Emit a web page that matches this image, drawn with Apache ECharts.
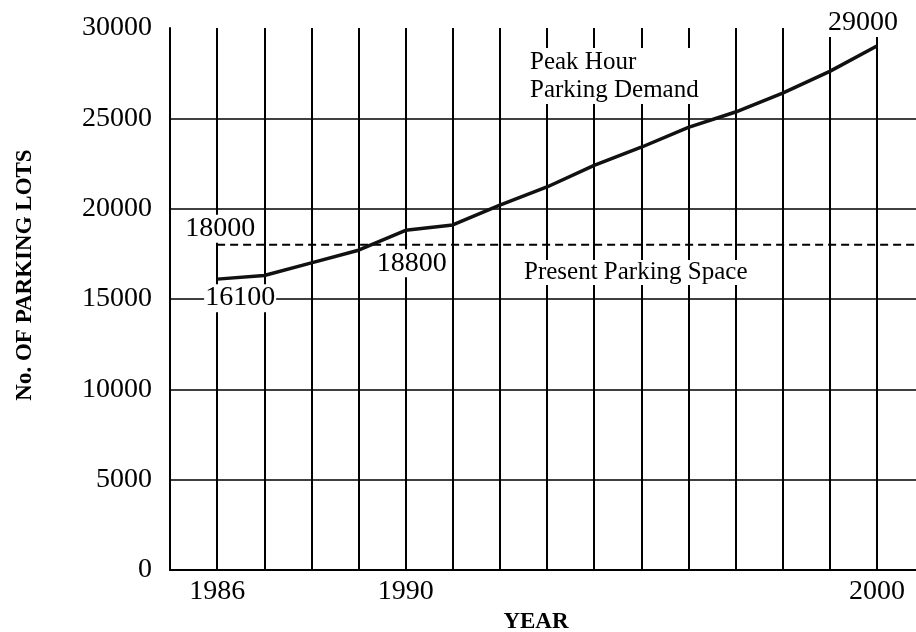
<!DOCTYPE html>
<html>
<head>
<meta charset="utf-8">
<script src="https://cdn.jsdelivr.net/npm/echarts@6/dist/echarts.min.js"></script>
<style>
  html, body { margin: 0; padding: 0; background: #fff; }
  #main { width: 916px; height: 632px; }
</style>
</head>
<body>
<div id="main"></div>
<script>
// peak hour demand
var years = [1986, 1987, 1988, 1989, 1990, 1991, 1992, 1993, 1994, 1995, 1996, 1997, 1998, 1999, 2000];
var demand = [16100, 16300, 17000, 17700, 18800, 19100, 20200, 21200, 22400, 23400, 24500, 25350, 26400, 27600, 29000];
// present parking space (flat)
var spaceYears = [1986, 2001];
var space = [18000, 18000];
// which years get a tick label
var labelYears = [1986, 1990, 2000];
// demand points that carry a value label
var labelIdx = [0, 4, 14];

var serif = '"Liberation Serif", "Times New Roman", serif';

var chart = echarts.init(document.getElementById('main'), null, { renderer: 'canvas' });

function numLabel(ofs) {
    return {
        show: true,
        position: 'inside',
        offset: ofs,
        formatter: '{c}',
        color: '#000',
        fontFamily: serif,
        fontSize: 28,
        backgroundColor: '#fff',
        padding: [0, 1]
    };
}

// offsets for the value labels (16100, 18800, 29000)
var demandOfs = [[23, 19], [6, 33], [-14, -23]];

var option = {
    backgroundColor: '#fff',
    animation: false,
    grid: {
        left: 170,
        right: -8,
        top: 28,
        bottom: 62,
        outerBoundsMode: 'none',
        containLabel: false
    },
    xAxis: {
        type: 'value',
        min: 1985,
        max: 2001,
        interval: 1,
        name: 'YEAR',
        nameLocation: 'middle',
        nameGap: 36,
        nameTextStyle: {
            fontFamily: serif,
            fontWeight: 'bold',
            fontSize: 23,
            color: '#000',
            padding: [0, 22, 0, 0]
        },
        axisLine: { lineStyle: { color: '#000', width: 2 } },
        axisTick: { show: false },
        axisLabel: {
            margin: 8,
            fontFamily: serif,
            fontSize: 28,
            color: '#000',
            formatter: function(v) {
                return labelYears.indexOf(v) >= 0 ? String(v) : '';
            }
        },
        splitLine: {
            show: true,
            lineStyle: { color: '#000', width: 2 }
        }
    },
    yAxis: {
        type: 'value',
        min: 0,
        max: 30000,
        interval: 5000,
        name: 'No. OF PARKING LOTS',
        nameLocation: 'middle',
        nameGap: 133,
        nameTextStyle: {
            fontFamily: serif,
            fontWeight: 'bold',
            fontSize: 23,
            color: '#000',
            padding: [0, 0, 0, 48]
        },
        axisLine: { show: true, lineStyle: { color: '#000', width: 2 } },
        axisTick: { show: false },
        axisLabel: {
            margin: 18,
            fontFamily: serif,
            fontSize: 28,
            color: '#000',
            formatter: function(v) { return String(v); }
        },
        splitLine: {
            show: true,
            showMaxLine: false,
            lineStyle: { color: '#000', width: 1.6 }
        }
    },
    series: [{
        name: 'Peak Hour Parking Demand',
        type: 'line',
        symbol: 'none',
        data: years.map(function(y, i) { return [y, demand[i]]; }),
        lineStyle: { color: '#111', width: 3.5 },
        z: 5,
        markPoint: {
            symbol: 'rect',
            symbolSize: 1,
            itemStyle: { color: 'rgba(0,0,0,0)' },
            data: labelIdx.map(function(idx, k) {
                return {
                    coord: [years[idx], demand[idx]],
                    value: demand[idx],
                    label: numLabel(demandOfs[k])
                };
            })
        }
    }, {
        name: 'Present Parking Space',
        type: 'line',
        symbol: 'none',
        data: spaceYears.map(function(y, i) { return [y, space[i]]; }),
        lineStyle: { color: '#000', width: 2, type: [8, 5] },
        z: 4,
        markPoint: {
            symbol: 'rect',
            symbolSize: 1,
            itemStyle: { color: 'rgba(0,0,0,0)' },
            data: [{
                coord: [spaceYears[0], space[0]],
                value: space[0],
                label: numLabel([3, -16])
            }]
        }
    }],
    graphic: [{
        type: 'text',
        left: 530,
        top: 48,
        z: 100,
        style: {
            text: 'Peak Hour\nParking Demand',
            font: '25px ' + serif,
            lineHeight: 28,
            fill: '#000',
            backgroundColor: '#fff'
        }
    }, {
        type: 'text',
        left: 524,
        top: 260,
        z: 100,
        style: {
            text: 'Present Parking Space',
            font: '25px ' + serif,
            fill: '#000',
            backgroundColor: '#fff'
        }
    }]
};

chart.setOption(option);
</script>
</body>
</html>
